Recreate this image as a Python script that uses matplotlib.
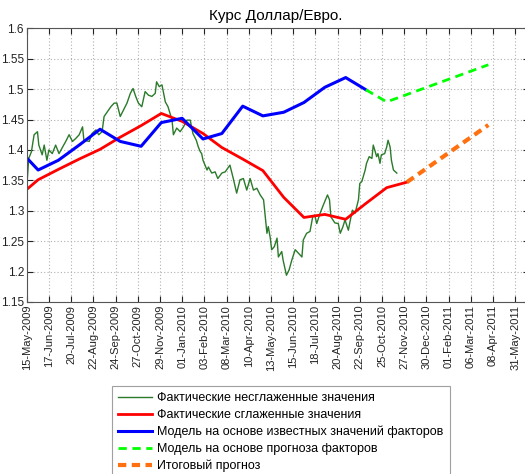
import matplotlib
matplotlib.use("Agg")
import matplotlib.pyplot as plt
import pandas as pd
import numpy as np

plt.rcParams['font.family'] = ['Liberation Sans', 'DejaVu Sans']

start_date = "2009-05-15"

# Actual unsmoothed (daily) values: day offset from 15-May-2009 and rate
green_days = [1, 3, 7, 11, 16, 18, 23, 26, 30, 33, 38, 43, 48, 51, 58, 63, 68, 73, 78, 83,
              85, 93, 97, 103, 107, 112, 115, 120, 125, 130, 134, 139, 144, 149, 154, 158,
              162, 166, 171, 176, 181, 186, 191, 193, 197, 201, 206, 210, 216, 218, 223,
              228, 233, 238, 243, 247, 252, 255, 258, 260, 262, 268, 270, 275, 280, 284,
              290, 295, 300, 302, 307, 312, 317, 322, 327, 332, 337, 342, 347, 352, 354,
              357, 359, 362, 364, 368, 372, 374, 379, 381, 386, 390, 394, 399, 404, 409,
              411, 416, 421, 425, 428, 431, 436, 441, 447, 450, 452, 458, 463, 466, 470,
              473, 478, 481, 484, 488, 493, 495, 498, 503, 505, 509, 513, 515, 518, 520,
              522, 525, 527, 532, 535, 537, 540, 542, 545, 550]
green_vals = [1.353, 1.386, 1.397, 1.425, 1.430, 1.408, 1.392, 1.408, 1.383, 1.400, 1.394,
              1.408, 1.394, 1.400, 1.414, 1.425, 1.414, 1.419, 1.425, 1.438, 1.416, 1.414,
              1.427, 1.433, 1.425, 1.430, 1.455, 1.463, 1.471, 1.477, 1.477, 1.455, 1.466,
              1.477, 1.493, 1.501, 1.488, 1.477, 1.471, 1.496, 1.490, 1.488, 1.493, 1.512,
              1.504, 1.507, 1.479, 1.471, 1.449, 1.425, 1.436, 1.430, 1.438, 1.449, 1.449,
              1.427, 1.416, 1.405, 1.397, 1.394, 1.383, 1.367, 1.372, 1.362, 1.364, 1.353,
              1.362, 1.364, 1.372, 1.375, 1.353, 1.329, 1.351, 1.353, 1.334, 1.353, 1.334,
              1.337, 1.326, 1.318, 1.296, 1.263, 1.274, 1.255, 1.236, 1.241, 1.255, 1.224,
              1.233, 1.219, 1.194, 1.203, 1.219, 1.236, 1.230, 1.224, 1.252, 1.263, 1.266,
              1.290, 1.293, 1.279, 1.296, 1.310, 1.326, 1.318, 1.290, 1.280, 1.279, 1.263,
              1.274, 1.285, 1.268, 1.285, 1.301, 1.296, 1.318, 1.345, 1.348, 1.367, 1.378,
              1.389, 1.386, 1.408, 1.397, 1.389, 1.394, 1.378, 1.392, 1.394, 1.405, 1.416,
              1.405, 1.383, 1.367, 1.362]

# Actual smoothed values (monthly)
red_dates = ["2009-05-15", "2009-06-01", "2009-07-01", "2009-08-01", "2009-09-01",
             "2009-10-01", "2009-11-01", "2009-12-01", "2010-01-01", "2010-02-01",
             "2010-03-01", "2010-04-01", "2010-05-01", "2010-06-01", "2010-07-01",
             "2010-08-01", "2010-09-01", "2010-10-01", "2010-11-01", "2010-12-01"]
red_vals = [1.335, 1.351, 1.368, 1.385, 1.401, 1.421, 1.440, 1.460, 1.447, 1.427,
            1.404, 1.385, 1.366, 1.322, 1.289, 1.294, 1.286, 1.312, 1.338, 1.347]

# Model based on known factor values
blue_dates = ["2009-05-15", "2009-06-01", "2009-07-01", "2009-08-01", "2009-09-01",
              "2009-10-01", "2009-11-01", "2009-12-01", "2010-01-01", "2010-02-01",
              "2010-03-01", "2010-04-01", "2010-05-01", "2010-06-01", "2010-07-01",
              "2010-08-01", "2010-09-01", "2010-10-01"]
blue_vals = [1.387, 1.367, 1.383, 1.408, 1.434, 1.414, 1.406, 1.445, 1.452, 1.418,
             1.427, 1.472, 1.456, 1.462, 1.478, 1.503, 1.519, 1.499]

# Model based on factor forecast
lime_dates = ["2010-10-01", "2010-11-01", "2011-04-01"]
lime_vals = [1.499, 1.479, 1.540]

# Final forecast
orange_dates = ["2010-12-01", "2011-04-01"]
orange_vals = [1.347, 1.441]

tick_labels = ["15-May-2009", "17-Jun-2009", "20-Jul-2009", "22-Aug-2009", "24-Sep-2009",
               "27-Oct-2009", "29-Nov-2009", "01-Jan-2010", "03-Feb-2010", "08-Mar-2010",
               "10-Apr-2010", "13-May-2010", "15-Jun-2010", "18-Jul-2010", "20-Aug-2010",
               "22-Sep-2010", "25-Oct-2010", "27-Nov-2010", "30-Dec-2010", "01-Feb-2011",
               "06-Mar-2011", "08-Apr-2011", "31-May-2011"]

legend_labels = ["Фактические несглаженные значения",
                 "Фактические сглаженные значения",
                 "Модель на основе известных значений факторов",
                 "Модель на основе прогноза факторов",
                 "Итоговый прогноз"]

title = "Курс Доллар/Евро."

t0 = pd.Timestamp(start_date)
def offs(dates):
    return [(pd.Timestamp(d) - t0).days for d in dates]

fig = plt.figure(figsize=(5.25, 4.74), dpi=100)
ax = fig.add_axes([26.7 / 525, 1 - 302 / 474, (528.7 - 26.7) / 525, (302 - 28.3) / 474])

h1, = ax.plot(green_days, green_vals, color="#2a7a2a", lw=1.0)
h2, = ax.plot(offs(red_dates), red_vals, color="#ff0000", lw=2)
h3, = ax.plot(offs(blue_dates), blue_vals, color="#0000ff", lw=2.2)
h4, = ax.plot(offs(lime_dates), lime_vals, color="#00ff00", lw=2, ls=(0, (3, 2)))
h5, = ax.plot(offs(orange_dates), orange_vals, color="#ff7010", lw=3, ls=(0, (2, 1.3)))

ax.set_xlim(0, 746)
ax.set_ylim(1.15, 1.6)
ax.set_xticks(np.arange(len(tick_labels)) * 33)
ax.set_xticklabels(tick_labels, rotation=90, fontsize=8)
yt = np.round(np.arange(1.15, 1.6001, 0.05), 2)
ax.set_yticks(yt)
ax.set_yticklabels([f"{v:g}" for v in yt], fontsize=8.5)
ax.tick_params(direction="in", top=True, right=True, length=4, width=0.8, pad=2,
               colors="#222222")
ax.grid(True, color="#b0b0b0", ls=(0, (1, 2)), lw=0.8)
for s in ax.spines.values():
    s.set_color("#555555")
    s.set_linewidth(0.8)

fig.text(276 / 525, 1 - 16 / 474, title, ha="center", va="center", fontsize=11)

leg = fig.legend([h1, h2, h3, h4, h5], legend_labels, loc="upper left",
                 bbox_to_anchor=(112 / 525, 1 - 386 / 474), bbox_transform=fig.transFigure,
                 fontsize=9, frameon=True, fancybox=False, borderaxespad=0,
                 handlelength=2.7, handletextpad=0.4, labelspacing=0.38,
                 borderpad=0.5)
leg.get_frame().set_edgecolor("#888888")
leg.get_frame().set_linewidth(0.8)

fig.savefig("out.png", dpi=100)
